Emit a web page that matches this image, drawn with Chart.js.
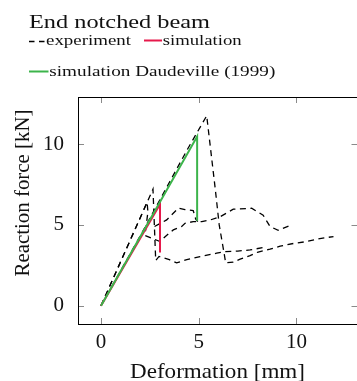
<!DOCTYPE html>
<html>
<head>
<meta charset="utf-8">
<script src="https://cdn.jsdelivr.net/npm/chart.js@4.4.0/dist/chart.umd.min.js"></script>
<style>
  html, body { margin: 0; padding: 0; background: #fff; overflow: hidden; }
  #wrap { width: 362px; height: 381px; }
</style>
</head>
<body>
<div id="wrap"><canvas id="beamChart" width="362" height="381"></canvas></div>
<script>
// tick labels
const xTicks = [0, 5, 10];
const yTicks = [0, 5, 10];

// experiment, specimen curves (deformation mm / force kN)
const expAx = [0, 2.66, 2.8, 2.97, 3.5, 3.87, 4.39, 5.07, 5.92, 6.35, 7.0, 7.63, 8.3];
const expAy = [0, 7.21, 2.8, 3.05, 2.85, 2.65, 2.85, 3.04, 3.25, 3.35, 3.38, 3.45, 3.6];
const expBx = [0, 2.0, 4.39, 5.41, 5.85, 6.05, 6.3, 6.38, 6.77, 7.12, 7.63, 8.0, 8.65, 9.17, 9.85, 10.53, 11.2, 11.9];
const expBy = [0, 4.3, 9.6, 11.75, 7.2, 5.0, 3.25, 2.65, 2.7, 2.88, 3.1, 3.3, 3.5, 3.68, 3.85, 3.97, 4.15, 4.28];
const expCx = [0, 2.36, 2.4, 2.25, 3.02, 3.28, 3.7, 4.13, 4.3, 4.72, 5.16, 5.58, 6.09, 6.77, 7.71, 8.3, 8.65, 9.07, 9.76];
const expCy = [0, 6.4, 5.8, 4.35, 3.97, 4.27, 4.69, 4.9, 5.1, 5.2, 5.2, 5.3, 5.5, 5.97, 6.03, 5.6, 4.9, 4.67, 5.0];
const expDx = [2.74, 3.36, 3.96, 4.3, 4.72, 4.85, 4.95];
const expDy = [4.9, 5.31, 6.03, 5.95, 5.88, 5.35, 5.2];

// simulations
const simX = [0, 3.02, 3.02];
const simY = [0, 6.28, 3.3];
const daudX = [0, 4.92, 4.92];
const daudY = [0, 10.47, 5.25];

const SERIF = '"Liberation Serif", "Times New Roman", serif';
const DASH = [6, 4.5];

function pts(xs, ys) {
  return xs.map((x, i) => ({ x: x, y: ys[i] }));
}

function expSet(xs, ys, label) {
  return {
    label: label,
    data: pts(xs, ys),
    borderColor: '#000',
    borderWidth: 1.3,
    borderDash: DASH,
    pointRadius: 0,
    tension: 0,
    order: 2
  };
}

// text squeezed/stretched to the width it has in the picture
function fitText(ctx, str, x, y, size, width, align, angle) {
  ctx.save();
  ctx.font = size + 'px ' + SERIF;
  const w = ctx.measureText(str).width;
  ctx.translate(x, y);
  if (angle) ctx.rotate(angle);
  ctx.scale(width / w, 1);
  ctx.textAlign = align;
  ctx.textBaseline = 'alphabetic';
  ctx.fillStyle = '#111';
  ctx.fillText(str, 0, 0);
  ctx.restore();
}

function seg(ctx, x1, y1, x2, y2) {
  ctx.beginPath();
  ctx.moveTo(x1, y1);
  ctx.lineTo(x2, y2);
  ctx.stroke();
}

const framePlugin = {
  id: 'frame',
  afterDraw(chart) {
    const ctx = chart.ctx;
    const a = chart.chartArea;
    const xs = chart.scales.x, ys = chart.scales.y;
    const ds = chart.data.datasets;
    ctx.save();

    // inner ticks on all four sides
    ctx.strokeStyle = '#8a8a8a';
    ctx.lineWidth = 1;
    xTicks.forEach(v => {
      const px = Math.round(xs.getPixelForValue(v)) + 0.5;
      seg(ctx, px, a.bottom, px, a.bottom - 6);
      seg(ctx, px, a.top, px, a.top + 6);
    });
    yTicks.forEach(v => {
      const py = Math.round(ys.getPixelForValue(v)) + 0.5;
      seg(ctx, a.left, py, a.left + 6, py);
      seg(ctx, a.right - 1, py, a.right - 7, py);
    });

    // axis box
    ctx.strokeStyle = '#000';
    ctx.lineWidth = 1;
    ctx.strokeRect(Math.round(a.left) + 0.5, Math.round(a.top) + 0.5,
      a.right - a.left, Math.round(a.bottom - a.top));

    // axis titles
    fitText(ctx, 'Deformation [mm]', 217.5, 378, 22, 175, 'center');
    fitText(ctx, 'Reaction force [kN]', 28.5, 193, 22, 167, 'center', -Math.PI / 2);

    // title and legend
    fitText(ctx, 'End notched beam', 29, 28, 19, 181, 'left');

    ctx.lineWidth = 1.3;
    ctx.strokeStyle = '#000';
    ctx.setLineDash([5.5, 4.5]);
    seg(ctx, 29, 41.5, 45, 41.5);
    ctx.setLineDash([]);
    fitText(ctx, ds[0].label, 46, 45, 15, 85, 'left');

    ctx.lineWidth = 2;
    ctx.strokeStyle = ds[4].borderColor;
    seg(ctx, 144, 40.5, 162, 40.5);
    fitText(ctx, ds[4].label, 162.7, 45, 15, 79, 'left');

    ctx.strokeStyle = ds[5].borderColor;
    seg(ctx, 29, 71.5, 48.5, 71.5);
    fitText(ctx, ds[5].label, 49.3, 76, 15, 226, 'left');

    ctx.restore();
  }
};

new Chart(document.getElementById('beamChart'), {
  type: 'line',
  data: {
    datasets: [
      expSet(expAx, expAy, 'experiment'),
      expSet(expBx, expBy, 'experiment'),
      expSet(expCx, expCy, 'experiment'),
      expSet(expDx, expDy, 'experiment'),
      {
        label: 'simulation',
        data: pts(simX, simY),
        borderColor: '#e6194b',
        borderWidth: 2,
        pointRadius: 0,
        tension: 0,
        order: 1
      },
      {
        label: 'simulation Daudeville (1999)',
        data: pts(daudX, daudY),
        borderColor: '#3cb44b',
        borderWidth: 2,
        pointRadius: 0,
        tension: 0,
        order: 0
      }
    ]
  },
  options: {
    responsive: false,
    animation: false,
    devicePixelRatio: 1,
    layout: { padding: { top: 97, right: 3.5, left: 0, bottom: 0 } },
    plugins: {
      legend: { display: false },
      tooltip: { enabled: false },
      title: { display: false }
    },
    scales: {
      x: {
        type: 'linear',
        min: -1.178,
        max: 13.18,
        afterBuildTicks: s => { s.ticks = xTicks.map(v => ({ value: v })); },
        afterFit: s => { s.height = 57; },
        grid: { display: false, drawTicks: false },
        border: { display: false },
        ticks: {
          font: { family: SERIF, size: 21 },
          color: '#111',
          padding: 6,
          maxRotation: 0,
          autoSkip: false
        }
      },
      y: {
        type: 'linear',
        min: -1.13,
        max: 12.91,
        afterBuildTicks: s => { s.ticks = yTicks.map(v => ({ value: v })); },
        afterFit: s => { s.width = 78; },
        grid: { display: false, drawTicks: false },
        border: { display: false },
        ticks: {
          font: { family: SERIF, size: 21 },
          color: '#111',
          padding: 14,
          autoSkip: false
        }
      }
    }
  },
  plugins: [framePlugin]
});
</script>
</body>
</html>
